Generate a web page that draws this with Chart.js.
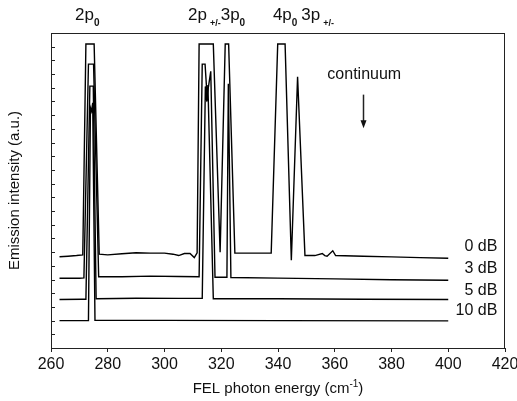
<!DOCTYPE html>
<html lang="en">
<head>
<meta charset="UTF-8">
<title>FEL emission spectra</title>
<script src="https://cdn.jsdelivr.net/npm/chart.js"></script>
<style>
  html, body { margin: 0; padding: 0; background: #fff; }
</style>
</head>
<body>
<canvas id="spec" width="517" height="401"></canvas>
<script>
// photon energy (cm-1) and stacked intensity, one pair per attenuation
const seriesNames = ['0 dB', '3 dB', '5 dB', '10 dB'];

const x0dB = [263, 266, 269, 271.2, 272.3, 275.2, 277.0, 280, 285, 290, 295, 300, 303, 305, 307, 309, 310.5, 311.5,
              312.2, 317.2, 319.6, 321.4, 322.6, 324.8, 330, 337.6, 339.9, 342.5, 344.7, 346.9, 349.5, 353, 355.6,
              356.5, 357.3, 359.3, 360.3, 370, 380, 390, 400];
const y0dB = [6.66, 6.7, 6.75, 6.8, 22.2, 22.2, 6.85, 6.8, 6.88, 6.95, 6.93, 6.93, 6.85, 6.75, 6.9, 6.9, 6.6, 6.95,
              22.2, 22.2, 7.0, 22.2, 22.2, 6.93, 6.93, 6.93, 22.2, 22.2, 6.4, 19.8, 6.75, 6.75, 6.9,
              6.75, 6.7, 7.1, 6.75, 6.7, 6.65, 6.6, 6.55];

const x3dB = [263, 270, 271.6, 273.2, 275.0, 276.8, 285, 295, 305, 312.2, 313.3, 314.3, 315.0, 316.3, 317.8,
              322.0, 322.5, 323.4, 340, 360, 380, 400];
const y3dB = [5.09, 5.09, 5.12, 20.73, 20.73, 5.2, 5.2, 5.25, 5.22, 5.2, 20.73, 20.73, 18.4, 20.2, 5.17,
              5.17, 19.3, 5.15, 5.1, 5.05, 4.98, 4.95];

const x5dB = [263, 271, 272.3, 273.7, 274.9, 275.9, 290, 305, 313.3, 314.4, 314.9, 315.3, 317.2, 340, 370, 400];
const y5dB = [3.54, 3.56, 3.56, 19.12, 19.12, 3.6, 3.63, 3.62, 3.62, 19.1, 18.0, 19.2, 3.6, 3.6, 3.56, 3.54];

const x10dB = [263, 273.2, 273.9, 274.3, 274.7, 275.5, 300, 340, 400];
const y10dB = [2.0, 2.0, 17.55, 17.3, 17.9, 2.02, 2.02, 2.0, 1.98];

const xTicks = [260, 280, 300, 320, 340, 360, 380, 400, 420];

const seriesX = [x0dB, x3dB, x5dB, x10dB];
const seriesY = [y0dB, y3dB, y5dB, y10dB];

const FONT = '"Liberation Sans", Arial, Helvetica, sans-serif';

// draws a piece of text made of runs with their own size / shift
function drawRuns(ctx, x, y, runs) {
    let cx = x;
    runs.forEach(r => {
        ctx.font = (r.bold ? 'bold ' : '') + r.size + 'px ' + FONT;
        ctx.fillText(r.t, cx, y + (r.dy || 0));
        cx += ctx.measureText(r.t).width + (r.gap || 0);
    });
}

const decor = {
    id: 'decor',
    afterDraw(chart) {
        const { ctx, chartArea: a, scales: { x, y } } = chart;
        ctx.save();
        ctx.strokeStyle = '#222';
        ctx.lineWidth = 1;
        ctx.strokeRect(a.left + 0.5, a.top + 0.5, a.right - a.left - 1, a.bottom - a.top);

        // left axis ticks point inward
        ctx.beginPath();
        y.ticks.forEach(t => {
            const py = Math.round(y.getPixelForValue(t.value)) + 0.5;
            ctx.moveTo(a.left, py);
            ctx.lineTo(a.left + 4, py);
        });
        ctx.stroke();

        ctx.fillStyle = '#111';
        ctx.textBaseline = 'alphabetic';

        // attenuation labels at the right end of each trace
        ctx.textAlign = 'right';
        ctx.font = '16px ' + FONT;
        const labelY = [7.4, 5.78, 4.17, 2.73];
        seriesNames.forEach((n, i) => {
            ctx.textBaseline = 'middle';
            ctx.fillText(n, x.getPixelForValue(417.3), y.getPixelForValue(labelY[i]));
        });

        // transition labels above the frame
        ctx.textAlign = 'left';
        ctx.textBaseline = 'alphabetic';
        const top = a.top - 13;
        drawRuns(ctx, x.getPixelForValue(268.5), top, [
            { t: '2p', size: 17 }, { t: '0', size: 10, dy: 6, bold: true }
        ]);
        drawRuns(ctx, x.getPixelForValue(308.3), top, [
            { t: '2p', size: 17, gap: 3 }, { t: '+/-', size: 9, dy: 6, bold: true },
            { t: '3p', size: 17 }, { t: '0', size: 10, dy: 6, bold: true }
        ]);
        drawRuns(ctx, x.getPixelForValue(338.2), top, [
            { t: '4p', size: 17 }, { t: '0', size: 10, dy: 6, bold: true, gap: 4 },
            { t: '3p', size: 17, gap: 3 }, { t: '+/-', size: 9, dy: 6, bold: true }
        ]);

        // continuum marker
        ctx.textBaseline = 'middle';
        ctx.font = '16px ' + FONT;
        ctx.fillText('continuum', x.getPixelForValue(357.4), y.getPixelForValue(19.93));
        const ax = Math.round(x.getPixelForValue(370)) + 0.5;
        const ay1 = y.getPixelForValue(18.5), ay2 = y.getPixelForValue(16.05);
        ctx.beginPath();
        ctx.lineWidth = 1.5;
        ctx.moveTo(ax, ay1);
        ctx.lineTo(ax, ay2 - 7);
        ctx.stroke();
        ctx.beginPath();
        ctx.moveTo(ax - 3, ay2 - 8);
        ctx.lineTo(ax + 3, ay2 - 8);
        ctx.lineTo(ax, ay2);
        ctx.closePath();
        ctx.fill();

        // x axis title with superscript
        ctx.textBaseline = 'alphabetic';
        ctx.font = '15px ' + FONT;
        const runs = [{ t: 'FEL photon energy (cm', size: 15 }, { t: '-1', size: 10, dy: -6 }, { t: ')', size: 15 }];
        let w = 0;
        runs.forEach(r => { ctx.font = r.size + 'px ' + FONT; w += ctx.measureText(r.t).width; });
        drawRuns(ctx, (a.left + a.right) / 2 - w / 2, a.bottom + 45, runs);
        ctx.restore();
    }
};

const ctx = document.getElementById('spec').getContext('2d');
new Chart(ctx, {
    type: 'line',
    data: {
        datasets: seriesNames.map((n, i) => ({
            label: n,
            data: seriesX[i].map((v, k) => ({ x: v, y: seriesY[i][k] })),
            borderColor: '#000',
            borderWidth: 1.4,
            pointRadius: 0,
            tension: 0,
            fill: false
        }))
    },
    options: {
        responsive: false,
        animation: false,
        devicePixelRatio: 1,
        layout: { padding: { top: 33, right: 0, bottom: 0, left: 0 } },
        plugins: { legend: { display: false }, tooltip: { enabled: false } },
        scales: {
            x: {
                type: 'linear',
                min: 260,
                max: 420,
                afterBuildTicks: s => { s.ticks = xTicks.map(v => ({ value: v })); },
                afterFit: s => { s.height = 53; s.paddingRight = 12; s.paddingLeft = 0; },
                border: { display: true, color: '#222', width: 1 },
                grid: { drawOnChartArea: false, tickLength: 4, color: '#222' },
                ticks: { color: '#111', padding: 3, font: { family: FONT, size: 16 } },
                title: { display: false }
            },
            y: {
                min: 0,
                max: 23,
                afterFit: s => { s.width = 51; },
                border: { display: true, color: '#222', width: 1 },
                grid: { display: false },
                ticks: { display: false, stepSize: 1 },
                title: {
                    display: true,
                    text: 'Emission intensity (a.u.)',
                    color: '#111',
                    padding: { top: 6, bottom: 0 },
                    font: { family: FONT, size: 15 }
                }
            }
        }
    },
    plugins: [decor]
});
</script>
</body>
</html>
